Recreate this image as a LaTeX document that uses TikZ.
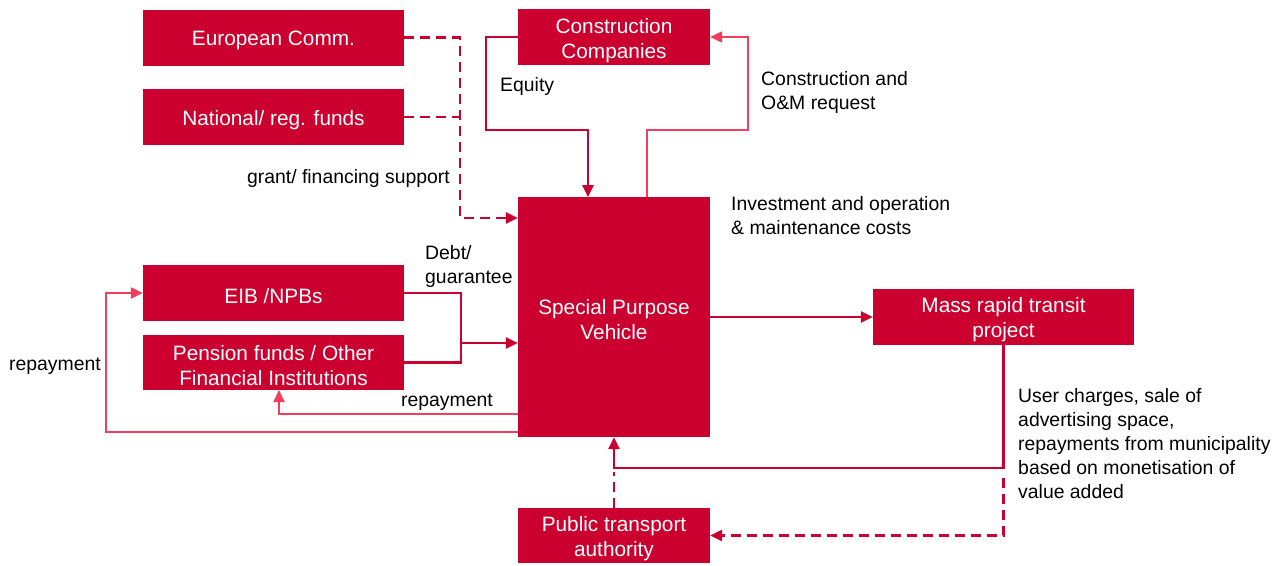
\documentclass[tikz,border=0pt]{standalone}
\usepackage{fontspec}
\setmainfont{Liberation Sans}
\usetikzlibrary{arrows.meta}
\definecolor{boxred}{RGB}{203,0,46}
\definecolor{lightred}{RGB}{240,62,92}
\begin{document}
\begin{tikzpicture}[x=1pt,y=-1pt,
  box/.style={fill=boxred,draw=none,inner sep=0pt},
  btxt/.style={text=white,inner sep=0pt,align=center,
    font=\fontsize{20.8}{25}\selectfont},
  lbl/.style={inner sep=0pt,align=left,font=\fontsize{19.4}{24}\selectfont,text=black},
  dk/.style={draw=boxred,line width=2.7pt},
  lt/.style={draw=lightred,line width=2.3pt},
  dsh/.style={draw=boxred,line width=2.4pt,dash pattern=on 10pt off 6pt},
  tip/.style={-{Triangle[length=12pt,width=11pt]}}
]
\useasboundingbox (0,0) rectangle (1284,565);
% boxes
\node[box,minimum width=261pt,minimum height=56pt] (ec) at (273.5,37.5) {};
\node[box,minimum width=261pt,minimum height=56pt] (nf) at (273.5,117) {};
\node[box,minimum width=192pt,minimum height=56pt] (cc) at (614,37) {};
\node[box,minimum width=192pt,minimum height=240pt] (spv) at (614,317) {};
\node[box,minimum width=261pt,minimum height=56pt] (eib) at (273.5,293) {};
\node[box,minimum width=261pt,minimum height=55pt] (pen) at (273.5,362.5) {};
\node[box,minimum width=261pt,minimum height=56pt] (mrt) at (1003.5,317) {};
\node[box,minimum width=192pt,minimum height=55pt] (pta) at (614,535.5) {};
% box texts
\node[btxt] (ect) at ([yshift=-3pt]ec.center) {European Comm.};
\node[btxt] (nft) at ([yshift=-3pt]nf.center) {National/ reg. funds};
\node[btxt] (cct) at ([yshift=-3.5pt]cc.center) {Construction\\Companies};
\node[btxt] (spvt) at (614,320) {Special Purpose\\Vehicle};
\node[btxt] (eibt) at ([yshift=-3pt]eib.center) {EIB /NPBs};
\node[btxt] (pent) at ([yshift=-3pt]pen.center) {Pension funds / Other\\Financial Institutions};
\node[btxt] (mrtt) at ([yshift=-3pt]mrt.center) {Mass rapid transit\\project};
\node[btxt] (ptat) at ([yshift=-3pt]pta.center) {Public transport\\authority};
% labels
\node[lbl,anchor=west] (lq) at (500,86) {Equity};
\node[lbl,anchor=west] (lc) at (761,92) {Construction and\\O\&M request};
\node[lbl,anchor=east] (lg) at (450,178) {grant/ financing support};
\node[lbl,anchor=west] (li) at (731,216) {Investment and operation\\\& maintenance costs};
\node[lbl,anchor=west] (ld) at (425,266) {Debt/\\guarantee};
\node[lbl,anchor=center] (lr1) at (55,366) {repayment};
\node[lbl,anchor=center] (lr2) at (447,402) {repayment};
\node[lbl,anchor=west] (lu) at (1018,444) {User charges, sale of\\advertising space,\\repayments from municipality\\based on monetisation of\\value added};
% coordinates
\coordinate (gv) at (460,218);
\coordinate (eq1) at (486,130);
\coordinate (eq2) at (588,197);
\coordinate (rq1) at (647,197);
\coordinate (rq2) at (748,130);
\coordinate (dv) at (461,362.5);
\coordinate (da) at (461,343);
\coordinate (r1) at (518,414);
\coordinate (r1b) at (279,390);
\coordinate (r2) at (518,432);
\coordinate (r2b) at (106,293);
\coordinate (m1) at (614,468);
\coordinate (m2) at (1003.5,478);
\coordinate (p1) at (614,472);
% connectors
\draw[dsh,tip] (ec.east) -| (gv) -- (gv -| spv.west);
\draw[dsh] (nf.east) -- (nf.east -| gv);
\draw[dk,tip] (cc.west) -| (eq1) -| (eq2);
\draw[lt,tip] (rq1) |- (rq2) |- (cc.east);
\draw[dk] (eib.east) -| (dv) -- (pen.east);
\draw[dk,tip] (da) -- (da -| spv.west);
\draw[lt,tip] (r1) -| (r1b);
\draw[lt,tip] (r2) -| (r2b) -- (eib.west);
\draw[dk,tip] (spv.east |- mrt.west) -- (mrt.west);
\draw[dk,tip] (mrt.south) |- (m1) -- (spv.south);
\draw[dsh,tip] (m2) |- (pta.east);
\draw[dsh] (pta.north) -- (p1);
\end{tikzpicture}
\end{document}
